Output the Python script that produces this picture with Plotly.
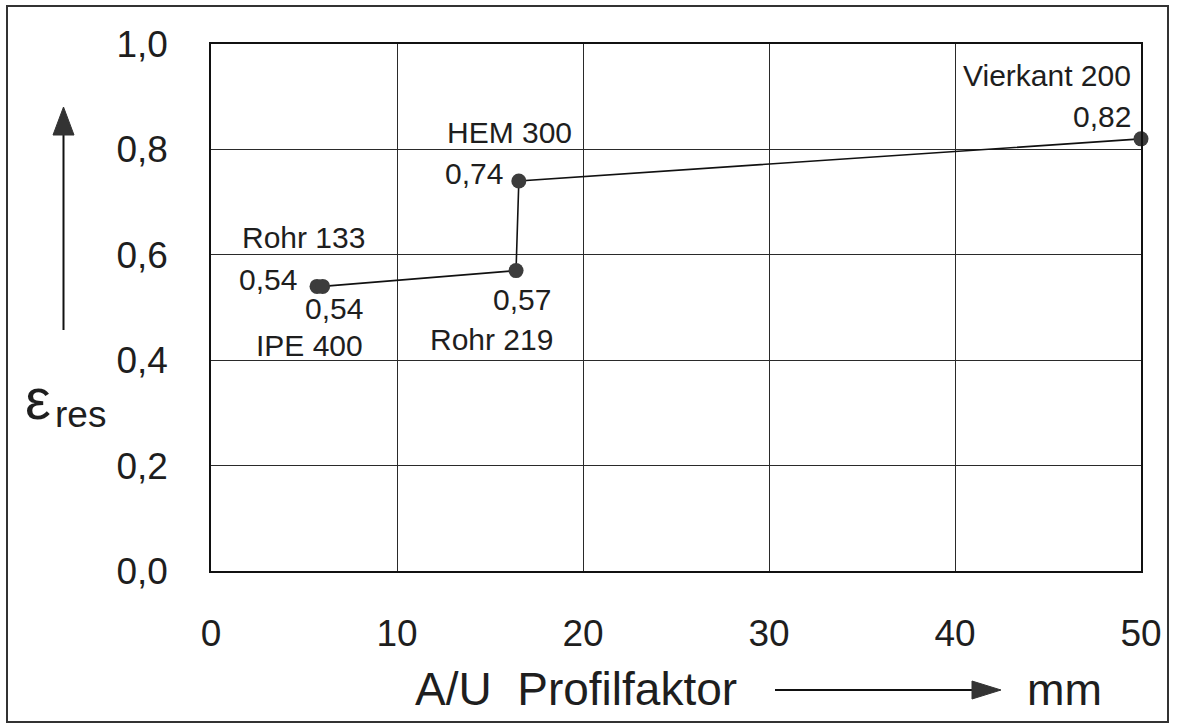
import plotly.graph_objects as go

# Steel sections: profile factor A/U (mm) vs. resulting emissivity
sections = ["Rohr 133", "IPE 400", "Rohr 219", "HEM 300", "Vierkant 200"]
profilfaktor = [5.7, 6.0, 16.4, 16.55, 50.0]
eps_res = [0.54, 0.54, 0.57, 0.74, 0.82]

x_ticks = [0, 10, 20, 30, 40, 50]
y_ticks = [0.0, 0.2, 0.4, 0.6, 0.8, 1.0]

W, H = 1179, 724
L, R, T, B = 211, 38, 44, 153
PW, PH = W - L - R, H - T - B


def px(x):
    """pixel x -> paper x"""
    return (x - L) / PW


def py(y):
    """pixel y -> paper y"""
    return (H - B - y) / PH


FONT = "Liberation Sans, Arial, Helvetica, sans-serif"
INK = "#1e1e1e"

fig = go.Figure()
fig.add_trace(go.Scatter(
    x=profilfaktor, y=eps_res, mode="lines+markers",
    line=dict(color="#111111", width=1.6),
    marker=dict(size=15, color="#3c3c3c"),
    cliponaxis=False, hoverinfo="skip", showlegend=False,
))

# label placement per section: (name anchor, dx, dy), (value anchor, dx, dy)
label_layout = {
    "Rohr 133": (("left", -77, 49), ("right", -18, 7)),
    "IPE 400": (("right", 42, -59), ("right", 42, -22)),
    "Rohr 219": (("right", 39, -69), ("right", 37, -29)),
    "HEM 300": (("left", -74, 49), ("right", -14, 8)),
    "Vierkant 200": (("right", -8, 63), ("right", -8, 22)),
}

for name, xv, yv in zip(sections, profilfaktor, eps_res):
    (na, ndx, ndy), (va, vdx, vdy) = label_layout[name]
    value_text = f"{yv:.2f}".replace(".", ",")
    for text, anchor, dx, dy in ((name, na, ndx, ndy), (value_text, va, vdx, vdy)):
        fig.add_annotation(
            x=xv, y=yv, xref="x", yref="y", text=text, showarrow=False,
            xanchor=anchor, yanchor="middle", xshift=dx, yshift=dy,
            font=dict(family=FONT, size=30, color=INK),
        )

shapes = []
# outer frame
shapes.append(dict(type="rect", xref="paper", yref="paper",
                   x0=px(7), x1=px(1168), y0=py(722), y1=py(6),
                   line=dict(color="#333333", width=2), layer="below"))
# y-direction arrow
shapes.append(dict(type="line", xref="paper", yref="paper",
                   x0=px(63.5), x1=px(63.5), y0=py(330), y1=py(132),
                   line=dict(color="#111111", width=2)))
shapes.append(dict(type="path", xref="paper", yref="paper",
                   path=f"M {px(63.5)},{py(107)} L {px(53)},{py(135)} L {px(74)},{py(135)} Z",
                   fillcolor="#333333", line=dict(color="#333333", width=1)))
# x-direction arrow
shapes.append(dict(type="line", xref="paper", yref="paper",
                   x0=px(775), x1=px(975), y0=py(690), y1=py(690),
                   line=dict(color="#111111", width=2)))
shapes.append(dict(type="path", xref="paper", yref="paper",
                   path=f"M {px(1001)},{py(690)} L {px(972)},{py(681)} L {px(972)},{py(699)} Z",
                   fillcolor="#333333", line=dict(color="#333333", width=1)))

annotations = [
    dict(xref="paper", yref="paper", x=px(413), y=py(689), xanchor="left", yanchor="middle",
         text="A/U  Profilfaktor", showarrow=False,
         font=dict(family=FONT, size=46, color=INK)),
    dict(xref="paper", yref="paper", x=px(1025), y=py(689), xanchor="left", yanchor="middle",
         text="mm", showarrow=False, font=dict(family=FONT, size=45, color=INK)),
    dict(xref="paper", yref="paper", x=px(53), y=py(398), xanchor="right", yanchor="middle",
         text="ε", showarrow=False, font=dict(family=FONT, size=58, color=INK)),
    dict(xref="paper", yref="paper", x=px(53), y=py(414), xanchor="left", yanchor="middle",
         text="res", showarrow=False, font=dict(family=FONT, size=37, color=INK)),
]
for a in annotations:
    fig.add_annotation(**a)

axis_common = dict(
    showgrid=True, gridcolor="#2a2a2a", gridwidth=1,
    showline=True, linecolor="#111111", linewidth=1.5, mirror=True,
    zeroline=False, ticks="", tickfont=dict(family=FONT, size=37, color=INK),
)

fig.update_xaxes(range=[0, 50], tickvals=x_ticks, ticklabelstandoff=29, **axis_common)
fig.update_yaxes(range=[0, 1.0], tickvals=y_ticks, tickformat=".1f",
                 ticklabelstandoff=34, **axis_common)

fig.update_layout(
    width=W, height=H, margin=dict(l=L, r=R, t=T, b=B, pad=0),
    paper_bgcolor="white", plot_bgcolor="white",
    separators=",.", shapes=shapes, showlegend=False,
    font=dict(family=FONT, color=INK),
)

fig.write_html("out.html")
